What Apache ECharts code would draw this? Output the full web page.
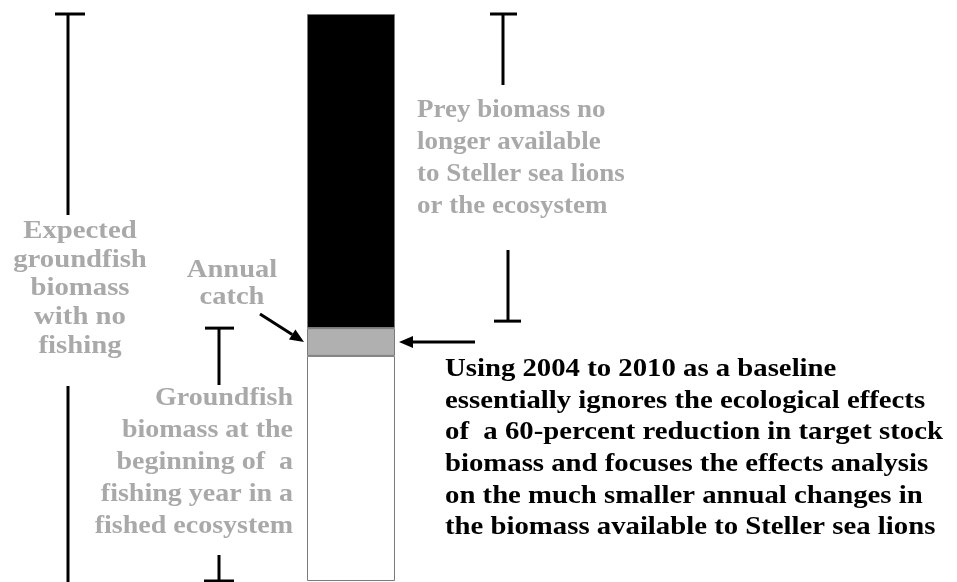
<!DOCTYPE html>
<html>
<head>
<meta charset="utf-8">
<script src="https://cdn.jsdelivr.net/npm/echarts@6/dist/echarts.min.js"></script>
<style>
html,body{margin:0;padding:0;background:#fff;}
#chart{width:957px;height:582px;}
</style>
</head>
<body>
<div id="chart"></div>
<script>
// ---- data ----
var categories = ['Biomass'];
var fishedBiomass = [39.7];   // white: groundfish biomass remaining
var annualCatch = [4.9];      // grey: annual catch
var preyLost = [55.4];        // black: prey biomass no longer available
var segmentNames = ['Groundfish biomass', 'Annual catch', 'Prey biomass lost'];

var leftLabel = 'Expected\ngroundfish\nbiomass\nwith no\nfishing';
var catchLabel = 'Annual\ncatch';
var fishedLabel = 'Groundfish\nbiomass at the\nbeginning of  a\nfishing year in a\nfished ecosystem';
var preyLabel = 'Prey biomass no\nlonger available\nto Steller sea lions\nor the ecosystem';
var noteLabel = 'Using 2004 to 2010 as a baseline\nessentially ignores the ecological effects\nof  a 60-percent reduction in target stock\nbiomass and focuses the effects analysis\non the much smaller annual changes in\nthe biomass available to Steller sea lions';

var chart = echarts.init(document.getElementById('chart'));
var FONT = '"Liberation Serif", serif';
var GREY = '#a9a9a9';

chart.setOption({
  animation: false,
  backgroundColor: '#ffffff',
  grid: { left: 0, width: 702, top: 14, bottom: 1 },
  xAxis: { type: 'category', data: categories, show: false },
  yAxis: { type: 'value', min: 0, max: 100, show: false },
  series: [
    { name: segmentNames[0], type: 'bar', stack: 's', data: fishedBiomass, barWidth: 88,
      itemStyle: { color: '#ffffff', borderColor: '#7a7a7a', borderWidth: 1 } },
    { name: segmentNames[1], type: 'bar', stack: 's', data: annualCatch, barWidth: 88,
      itemStyle: { color: '#b0b0b0', borderColor: '#7a7a7a', borderWidth: 1 } },
    { name: segmentNames[2], type: 'bar', stack: 's', data: preyLost, barWidth: 88,
      itemStyle: { color: '#000000', borderColor: '#7a7a7a', borderWidth: 1 } }
  ]
});

function py(v) { return chart.convertToPixel({ yAxisIndex: 0 }, v); }
var total = fishedBiomass[0] + annualCatch[0] + preyLost[0];
var yTop = py(total);
var yZero = py(0);
var yCatchTop = py(fishedBiomass[0] + annualCatch[0]);
var yCatchMid = py(fishedBiomass[0] + annualCatch[0] / 2);

function seg(x1, y1, x2, y2) {
  return { type: 'line', shape: { x1: x1, y1: y1, x2: x2, y2: y2 },
    style: { stroke: '#000', lineWidth: 3 }, silent: true };
}
function arrow(x1, y1, x2, y2) {
  var ang = Math.atan2(y2 - y1, x2 - x1);
  var L = 14, W = 6;
  var bx = x2 - L * Math.cos(ang), by = y2 - L * Math.sin(ang);
  var nx = -Math.sin(ang), ny = Math.cos(ang);
  return [
    { type: 'line', shape: { x1: x1, y1: y1, x2: bx, y2: by }, style: { stroke: '#000', lineWidth: 3 }, silent: true },
    { type: 'polygon', shape: { points: [[x2, y2], [bx + nx * W, by + ny * W], [bx - nx * W, by - ny * W]] },
      style: { fill: '#000' }, silent: true }
  ];
}
function label(text, x, y, align, color, size, lh, sx) {
  return { type: 'text', x: x, y: y, scaleX: sx, silent: true,
    style: { text: text, x: 0, y: 0, align: align, verticalAlign: 'top',
      font: 'bold ' + size + 'px ' + FONT, lineHeight: lh, fill: color } };
}

var els = [];
// left bracket
els.push(seg(55, yTop, 85, yTop));
els.push(seg(68, yTop, 68, 215));
els.push(seg(68, 386, 68, yZero + 2));
// middle bracket
els.push(seg(205, yCatchTop, 234, yCatchTop));
els.push(seg(219, yCatchTop, 219, 385));
els.push(seg(219, 555, 219, yZero));
els.push(seg(204, yZero, 234, yZero));
// right bracket
els.push(seg(490, yTop, 517, yTop));
els.push(seg(503, yTop, 503, 85));
els.push(seg(508, 250, 508, yCatchTop - 7));
els.push(seg(494, yCatchTop - 7, 521, yCatchTop - 7));
// arrows
els = els.concat(arrow(260, 314, 304, yCatchMid));
els = els.concat(arrow(475, yCatchMid, 399, yCatchMid));
// labels
els.push(label(leftLabel, 80, 217, 'center', GREY, 25, 28.7, 1.15));
els.push(label(catchLabel, 232, 257, 'center', GREY, 25, 27, 1.14));
els.push(label(fishedLabel, 293, 383, 'right', GREY, 25, 32, 1.12));
els.push(label(preyLabel, 417, 95, 'left', GREY, 25, 32, 1.08));
els.push(label(noteLabel, 445, 354, 'left', '#000000', 25, 31.6, 1.15));

chart.setOption({ graphic: { elements: els } });
</script>
</body>
</html>
